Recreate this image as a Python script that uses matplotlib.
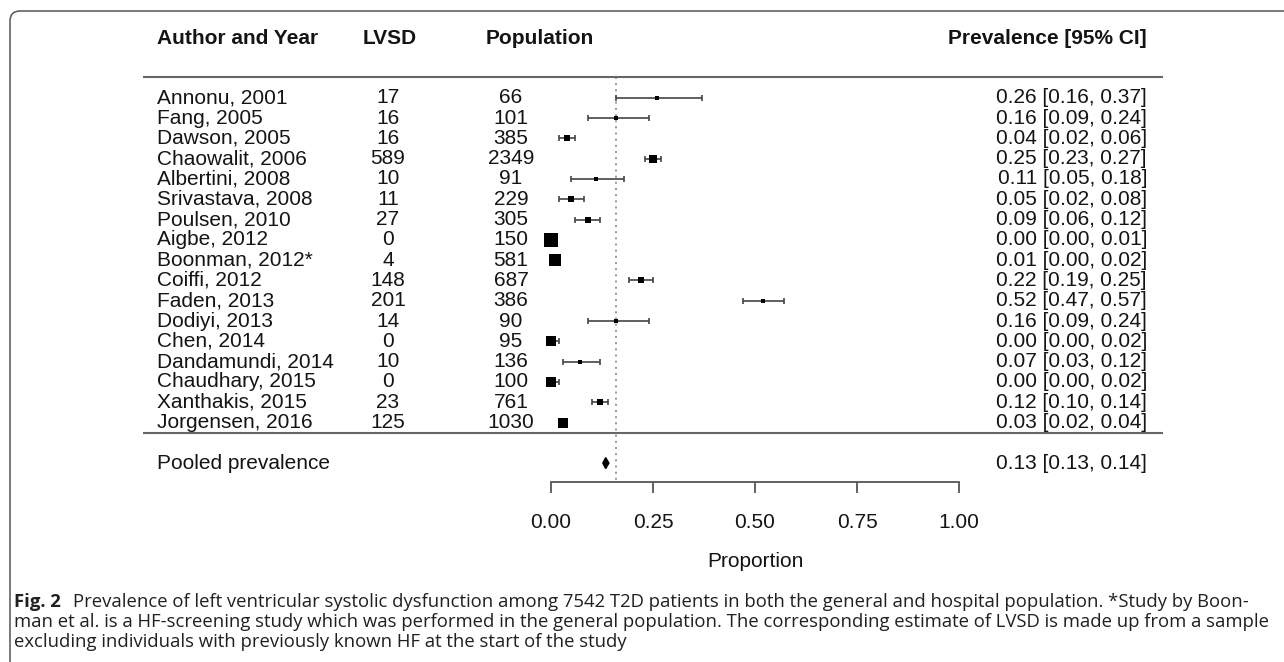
import numpy as np
import matplotlib
matplotlib.use('Agg')
import matplotlib.pyplot as plt
from matplotlib import font_manager
from matplotlib.patches import FancyBboxPatch, Polygon
from matplotlib.transforms import IdentityTransform

# data
studies = ["Annonu, 2001", "Fang, 2005", "Dawson, 2005", "Chaowalit, 2006",
           "Albertini, 2008", "Srivastava, 2008", "Poulsen, 2010", "Aigbe, 2012",
           "Boonman, 2012*", "Coiffi, 2012", "Faden, 2013", "Dodiyi, 2013",
           "Chen, 2014", "Dandamundi, 2014", "Chaudhary, 2015", "Xanthakis, 2015",
           "Jorgensen, 2016"]
lvsd = [17, 16, 16, 589, 10, 11, 27, 0, 4, 148, 201, 14, 0, 10, 0, 23, 125]
population = [66, 101, 385, 2349, 91, 229, 305, 150, 581, 687, 386, 90, 95, 136,
              100, 761, 1030]
prev = [0.26, 0.16, 0.04, 0.25, 0.11, 0.05, 0.09, 0.00, 0.01, 0.22, 0.52, 0.16,
        0.00, 0.07, 0.00, 0.12, 0.03]
lower = [0.16, 0.09, 0.02, 0.23, 0.05, 0.02, 0.06, 0.00, 0.00, 0.19, 0.47, 0.09,
         0.00, 0.03, 0.00, 0.10, 0.02]
upper = [0.37, 0.24, 0.06, 0.27, 0.18, 0.08, 0.12, 0.01, 0.02, 0.25, 0.57, 0.24,
         0.02, 0.12, 0.02, 0.14, 0.04]
# relative study weight (drives box size)
weight = [4, 4.5, 7, 8, 4.5, 6, 6, 15, 12, 6, 5, 4, 10.5, 5, 10.5, 6, 10.5]
pooled_est, pooled_lo, pooled_hi = 0.134, 0.127, 0.142
refline = 0.16
xticks = [0.0, 0.25, 0.5, 0.75, 1.0]

caption_bold = "Fig. 2"
caption_lines = [
    "Prevalence of left ventricular systolic dysfunction among 7542 T2D patients in both the general and hospital population. *Study by Boon-",
    "man et al. is a HF-screening study which was performed in the general population. The corresponding estimate of LVSD is made up from a sample",
    "excluding individuals with previously known HF at the start of the study",
]

W, H = 1284, 662
X0, X1 = 551, 959          # pixel positions of 0 and 1 on the axis
ROW0, DROW = 97.7, 20.3    # pixel y of first row and row spacing
AXIS_Y = 482

font = 'Liberation Sans'
fs = 15
ink = '#141414'

fig = plt.figure(figsize=(W / 100, H / 100), dpi=100)
ax = fig.add_axes([X0 / W, (H - AXIS_Y) / H, (X1 - X0) / W, AXIS_Y / H])


def row_of(py):
    return (py - ROW0) / DROW


def col(px):
    return (px - X0) / (X1 - X0)


ax.set_xlim(0, 1)
ax.set_ylim(row_of(AXIS_Y), row_of(0))
for s in ['left', 'right', 'top']:
    ax.spines[s].set_visible(False)
ax.spines['bottom'].set_bounds(0, 1)
ax.spines['bottom'].set_color('#555555')
ax.spines['bottom'].set_linewidth(1.3)
ax.set_yticks([])
ax.set_xticks(xticks)
ax.set_xticklabels(['%.2f' % t for t in xticks], fontsize=fs, family=font, color=ink)
ax.tick_params(axis='x', direction='out', length=8, width=1.3, color='#555555', pad=14)
ax.set_xlabel('Proportion', fontsize=fs, family=font, color=ink, labelpad=14.5)

rows = np.arange(len(studies))
prev_a = np.array(prev)
lo_a = np.array(lower)
hi_a = np.array(upper)

ax.vlines(refline, -1, row_of(AXIS_Y), colors='#888888', linestyles=(0, (1.2, 2.5)),
          linewidth=1.2, clip_on=False, zorder=1)

ax.errorbar(prev_a, rows, xerr=[prev_a - lo_a, hi_a - prev_a], fmt='none',
            ecolor='#444444', elinewidth=1.2, capsize=2, capthick=1.2, zorder=2)
for r, p, w in zip(rows, prev_a, weight):
    ax.plot(p, r, 's', ms=w / 1.389, color='black', mec='black', mew=0, zorder=3,
            clip_on=False)

prow = len(studies) + 1
diamond = Polygon([[pooled_lo, prow], [pooled_est, prow - 0.27],
                   [pooled_hi, prow], [pooled_est, prow + 0.27]],
                  closed=True, color='black', zorder=3)
ax.add_patch(diamond)

# separators
for yr in [-1.0, len(studies) - 0.47]:
    ax.plot([col(143), col(1163)], [yr, yr], color='#666666', lw=1.5,
            clip_on=False, solid_capstyle='butt')

# headers
hy = row_of(39)
tkw = dict(fontsize=fs, family=font, color=ink, va='center', clip_on=False)
ax.text(col(157), hy, 'Author and Year', ha='left', weight='bold', **tkw)
ax.text(col(390), hy, 'LVSD', ha='center', weight='bold', **tkw)
ax.text(col(540), hy, 'Population', ha='center', weight='bold', **tkw)
ax.text(col(1147), hy, 'Prevalence [95% CI]', ha='right', weight='bold', **tkw)

for r, name, n_l, n_p, p, lo, hi in zip(rows, studies, lvsd, population,
                                         prev, lower, upper):
    ax.text(col(157), r, name, ha='left', **tkw)
    ax.text(col(388), r, str(n_l), ha='center', **tkw)
    ax.text(col(511), r, str(n_p), ha='center', **tkw)
    ax.text(col(1147), r, '%.2f [%.2f, %.2f]' % (p, lo, hi), ha='right', **tkw)

ax.text(col(157), prow, 'Pooled prevalence', ha='left', **tkw)
ax.text(col(1147), prow, '%.2f [%.2f, %.2f]' % (pooled_est, pooled_lo, pooled_hi),
        ha='right', **tkw)

# frame around the figure panel
frame = FancyBboxPatch((10, -40), 1400, H - 11 + 40,
                       boxstyle='round,pad=0,rounding_size=10',
                       transform=IdentityTransform(), fill=False,
                       edgecolor='#555555', linewidth=1.1)
fig.add_artist(frame)

# caption
cap_font = 'Open Sans'
for cand in ['Liberation Sans Narrow', 'Open Sans']:
    try:
        font_manager.findfont(font_manager.FontProperties(family=cand),
                              fallback_to_default=False)
        cap_font = cand
        break
    except Exception:
        pass

cap_color = '#231f20'
cap_x0 = 14 / W
line_y = [602, 622, 642]
renderer = fig.canvas.get_renderer()


def draw_caption(size):
    arts = []
    b = fig.text(cap_x0, 1 - line_y[0] / H, caption_bold, fontsize=size,
                 family=cap_font, weight='bold', color=cap_color, va='center')
    arts.append(b)
    bw = b.get_window_extent(renderer).width
    arts.append(fig.text(cap_x0 + (bw + size * 0.9) / W, 1 - line_y[0] / H,
                         caption_lines[0], fontsize=size, family=cap_font,
                         color=cap_color, va='center'))
    for txt, yy in zip(caption_lines[1:], line_y[1:]):
        arts.append(fig.text(cap_x0, 1 - yy / H, txt, fontsize=size,
                             family=cap_font, color=cap_color, va='center'))
    right = max(a.get_window_extent(renderer).x1 for a in arts)
    return arts, right


size = 10.0
arts, right = draw_caption(size)
for a in arts:
    a.remove()
size = size * (1266 - 14) / (right - 14)
draw_caption(size)

fig.savefig('out.png', dpi=100)
